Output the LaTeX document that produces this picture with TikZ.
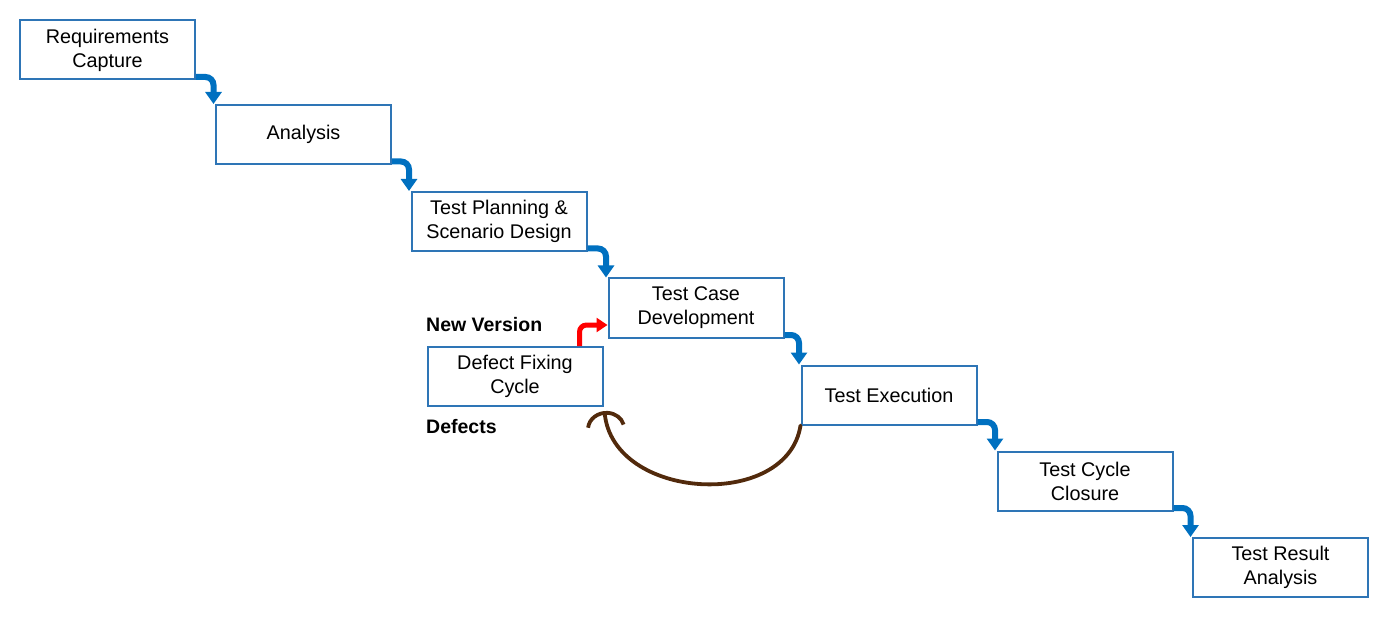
\documentclass[tikz,border=0pt]{standalone}
\usepackage{fontspec}
\setmainfont{Liberation Sans}
\usetikzlibrary{arrows.meta}
\definecolor{boxblue}{RGB}{46,117,182}
\definecolor{arrblue}{RGB}{0,112,192}
\definecolor{arcbrown}{RGB}{82,42,12}
\definecolor{arrred}{RGB}{255,0,0}
\begin{document}
\begin{tikzpicture}[x=1pt,y=-1pt,
  stage/.style={draw=boxblue,line width=2pt,fill=white,minimum width=175pt,minimum height=59pt,
     align=center,font=\fontsize{19.8}{24}\selectfont,inner sep=0pt},
  flow/.style={draw=arrblue,line width=6pt,rounded corners=8pt,-{Triangle[width=16pt,length=12pt]}},
  fixarrow/.style={draw=arrred,line width=5pt,rounded corners=7pt,-{Triangle[width=14pt,length=11pt]}},
  defectarc/.style={draw=arcbrown,line width=3.8pt,line cap=round,-{Arc Barb[arc=160,width=40pt,length=18pt]}},
  lbl/.style={anchor=west,font=\fontsize{19.5}{24}\selectfont\bfseries,inner sep=0pt}]
\useasboundingbox (0,0) rectangle (1380,617);
\node[stage] (n1) at (107.5,50) {Requirements\\Capture};
\node[stage] (n2) at (303.5,134.5) {Analysis};
\node[stage] (n3) at (499,221.5) {Test Planning \&\\Scenario Design};
\node[stage] (n4) at (696,308) {Test Case\\Development};
\node[stage] (n5) at (889,395) {Test Execution};
\node[stage] (n6) at (1085,481) {Test Cycle\\Closure};
\node[stage] (n7) at (1280.5,567.5) {Test Result\\Analysis};
\node[stage] (d) at (515,376.5) {Defect Fixing\\Cycle};
\node[lbl] (nv) at (426,325) {New Version};
\node[lbl] (df) at (426,427) {Defects};
\draw[flow] ([yshift=3.5pt]n1.south east) -| ([xshift=-1.5pt]n2.north west);
\draw[flow] ([yshift=3.5pt]n2.south east) -| ([xshift=-1.5pt]n3.north west);
\draw[flow] ([yshift=3.5pt]n3.south east) -| ([xshift=-1.5pt]n4.north west);
\draw[flow] ([yshift=3.5pt]n4.south east) -| ([xshift=-1.5pt]n5.north west);
\draw[flow] ([yshift=3.5pt]n5.south east) -| ([xshift=-1.5pt]n6.north west);
\draw[flow] ([yshift=3.5pt]n6.south east) -| ([xshift=-1.5pt]n7.north west);
\draw[fixarrow] ([xshift=-24pt]d.north east) |- ([yshift=-17pt]n4.west);
\draw[defectarc] (n5.south west) .. controls +(-13,85) and +(8,90) .. ([xshift=1pt,yshift=-4pt]d.south east);
\end{tikzpicture}
\end{document}
